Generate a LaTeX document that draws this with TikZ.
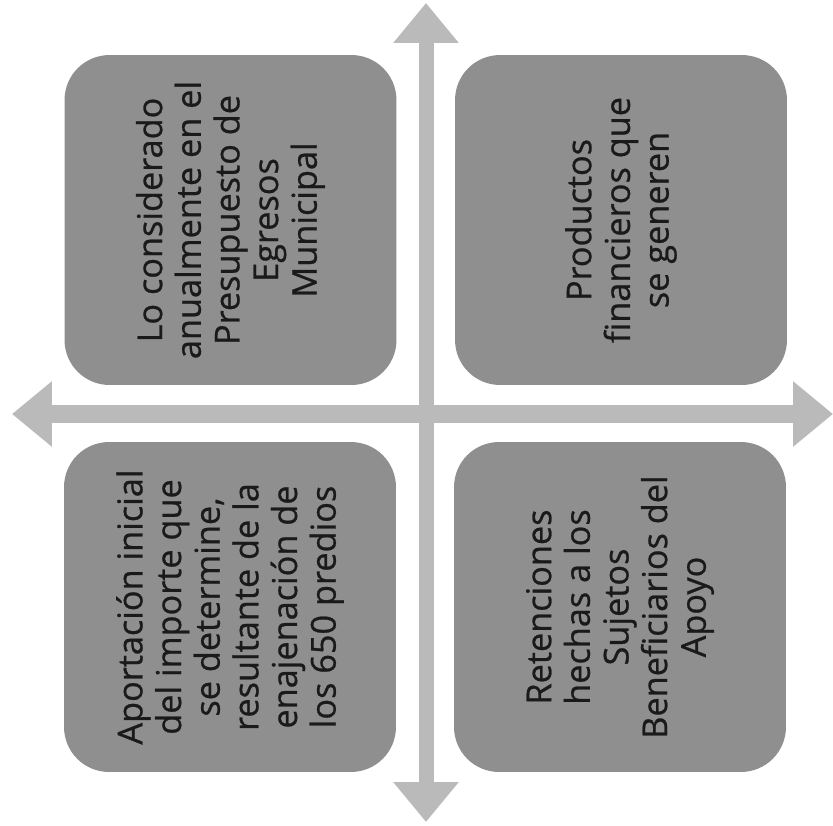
\documentclass[tikz,border=0pt]{standalone}
\usepackage{fontspec}
\setmainfont{Open Sans}
\newfontfamily\cajafont{Open Sans}[FakeBold=0.7]
\usetikzlibrary{arrows.meta}
\definecolor{boxgray}{HTML}{8F8F8F}
\definecolor{axisgray}{HTML}{BABABA}
\definecolor{txtgray}{HTML}{1A1A1A}

\begin{document}
\begin{tikzpicture}[x=0.02cm, y=-0.02cm]
    \tikzstyle{every node}=[inner sep=0pt]
    \tikzstyle{fuente}=[fill=boxgray, rounded corners=0.9cm, rotate=90, minimum width=6.6cm, minimum height=6.64cm, align=center, text=txtgray, font=\cajafont\fontsize{19.5}{22}\selectfont]
    \tikzstyle{eje}=[draw=axisgray, {Triangle[length=0.8cm, width=1.26cm]}-{Triangle[length=0.8cm, width=1.26cm]}]

    \useasboundingbox (0,0) rectangle (833,826);

% The following code draws the two axes and the four boxes around them.

    \coordinate (arriba) at (426,3);
    \coordinate (abajo) at (426,822);
    \coordinate (izq) at (12,414);
    \coordinate (der) at (833,414);
    \draw[eje, line width=0.3cm] (arriba) -- (abajo);
    \draw[eje, line width=0.36cm] (izq) -- (der);

    \node[fuente] (presupuesto) at (230.5,220) {Lo considerado\\anualmente en el\\Presupuesto de\\Egresos\\Municipal};
    \node[fuente] (productos) at (621,220) {Productos\\financieros que\\se generen};
    \node[fuente] (aportacion) at (230,607) {Aportación inicial\\del importe que\\se determine,\\resultante de la\\enajenación de\\los 650 predios};
    \node[fuente] (retenciones) at (620,607) {Retenciones\\hechas a los\\Sujetos\\Beneficiarios del\\Apoyo};

\end{tikzpicture}
\end{document}
